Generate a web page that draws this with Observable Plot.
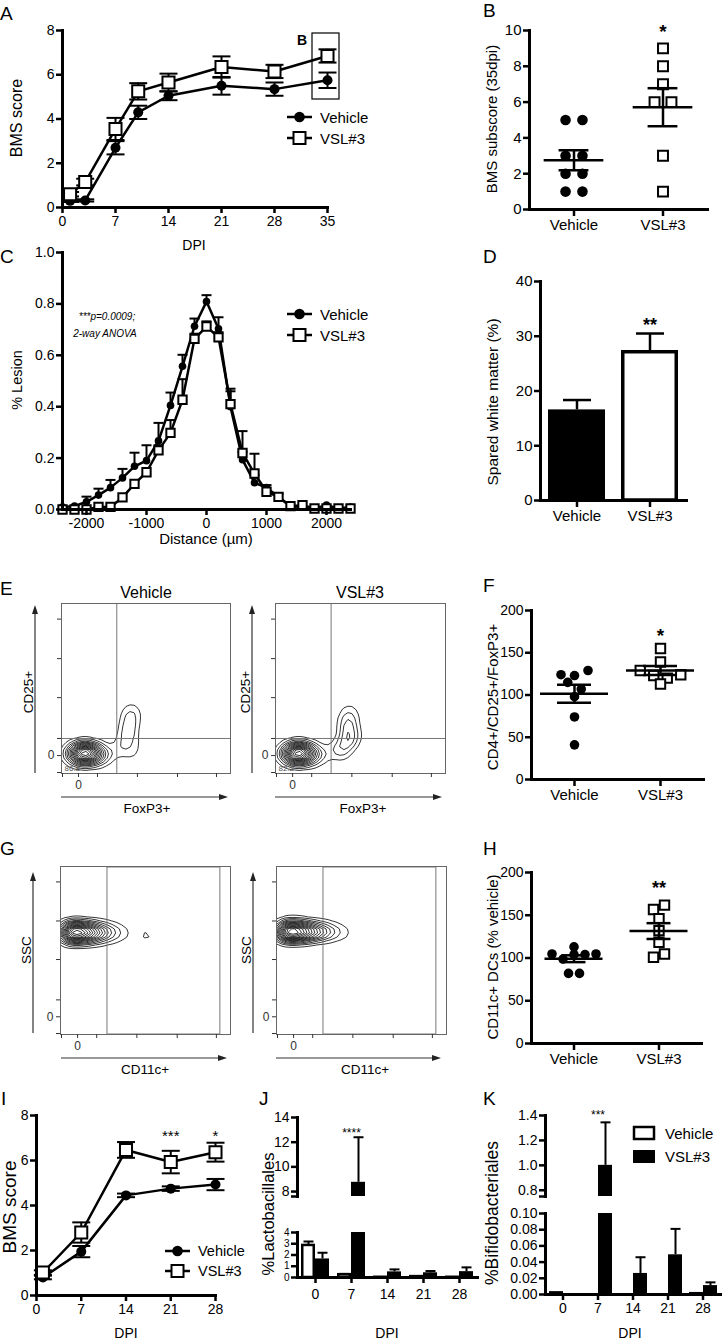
<!DOCTYPE html>
<html><head><meta charset="utf-8">
<script src="https://cdn.jsdelivr.net/npm/d3@7"></script>
<script src="https://cdn.jsdelivr.net/npm/@observablehq/plot@0.6"></script>
<style>
html,body{margin:0;padding:0;background:#fff;}
#page{position:relative;width:723px;height:1342px;overflow:hidden;font-family:'Liberation Sans',Arial,sans-serif;background:#fff;}
</style></head><body><div id="page"></div>
<script>
// ================= DATA =================
const groups = ["Vehicle", "VSL#3"];
// Panel A: BMS score over DPI
const dpiA = [1, 3, 7, 10, 14, 21, 28, 35];
const vehA = [0.3, 0.32, 2.7, 4.3, 5.05, 5.5, 5.35, 5.75];
const vehAErr = [0.05, 0.05, 0.3, 0.3, 0.2, 0.4, 0.3, 0.35];
const vslA = [0.6, 1.15, 3.55, 5.25, 5.65, 6.35, 6.15, 6.85];
const vslAErr = [0.1, 0.15, 0.5, 0.37, 0.4, 0.48, 0.3, 0.3];
const xTicksA = [0, 7, 14, 21, 28, 35];
const yTicksA = [0, 2, 4, 6, 8];
// Panel B: BMS subscore at 35 dpi
const bVeh = [5, 5, 3, 3, 2, 2, 1, 1];
const bVsl = [9, 8, 7, 6, 6, 3, 1];
const yTicksB = [0, 2, 4, 6, 8, 10];
const sigB = [{group: "VSL#3", label: "*"}];
// Panel C: % lesion vs distance
const distC = [-2400, -2200, -2000, -1800, -1600, -1400, -1200, -1000, -800, -600, -400, -200, 0, 200, 400, 600, 800, 1000, 1200, 1400, 1600, 1800, 2000, 2200, 2400];
const vehC = [0.01, 0.013, 0.03, 0.056, 0.085, 0.123, 0.168, 0.19, 0.267, 0.405, 0.557, 0.713, 0.809, 0.703, 0.40, 0.194, 0.104, 0.085, 0.05, 0.013, 0.01, 0.004, 0.017, 0.004, 0.01];
const vehCErr = [0, 0, 0.02, 0.025, 0.03, 0.035, 0.053, 0.06, 0.07, 0.05, 0.045, 0.03, 0.025, 0.045, 0.06, 0.03, 0.03, 0.01, 0.01, 0, 0, 0, 0, 0, 0];
const vslC = [0, 0, 0, 0.01, 0.01, 0.047, 0.1, 0.145, 0.23, 0.298, 0.427, 0.664, 0.712, 0.67, 0.41, 0.22, 0.14, 0.069, 0.049, 0.013, 0.017, 0.004, 0.004, 0.004, 0.004];
const vslCErr = [0, 0, 0, 0, 0, 0, 0, 0, 0.02, 0.05, 0.08, 0.02, 0.02, 0.02, 0.06, 0.085, 0.077, 0, 0, 0, 0, 0, 0, 0, 0];
const xTicksC = [-2000, -1000, 0, 1000, 2000];
const yTicksC = [0, 0.2, 0.4, 0.6, 0.8, 1.0];
// Panel D: spared white matter
const dMean = [16.55, 27.4];
const dErr = [1.8, 3.1];
const yTicksD = [0, 10, 20, 30, 40];
const sigD = [{group: "VSL#3", label: "**"}];
// Panel E: flow contours (channel units 0-1024), x = FoxP3, y = CD25, w = weight
const flowEVeh = [
  {x: 48, y: 120, w: 3}, {x: 85, y: 120, w: 6}, {x: 121, y: 120, w: 9}, {x: 158, y: 120, w: 9},
  {x: 194, y: 120, w: 7}, {x: 230, y: 114, w: 4}, {x: 267, y: 114, w: 2}, {x: 303, y: 114, w: 0.8},
  {x: 121, y: 90, w: 3}, {x: 121, y: 151, w: 3}, {x: 182, y: 90, w: 2}, {x: 182, y: 151, w: 2},
  {x: 364, y: 151, w: 2}, {x: 388, y: 211, w: 2.5}, {x: 406, y: 271, w: 3}, {x: 418, y: 331, w: 3},
  {x: 424, y: 379, w: 2}, {x: 436, y: 181, w: 1.5}, {x: 436, y: 108, w: 1.2}
];
const flowEVsl = [
  {x: 48, y: 120, w: 3}, {x: 85, y: 120, w: 6}, {x: 121, y: 120, w: 9}, {x: 158, y: 120, w: 9},
  {x: 194, y: 120, w: 6}, {x: 230, y: 114, w: 3.5}, {x: 267, y: 114, w: 1.8}, {x: 303, y: 114, w: 0.8},
  {x: 121, y: 90, w: 3}, {x: 121, y: 151, w: 3}, {x: 182, y: 90, w: 2}, {x: 182, y: 151, w: 2},
  {x: 373, y: 144, w: 2.5}, {x: 409, y: 132, w: 2}, {x: 433, y: 193, w: 3.5}, {x: 439, y: 253, w: 4},
  {x: 439, y: 313, w: 3.5}, {x: 445, y: 373, w: 2.2}, {x: 470, y: 217, w: 1.5}
];
const gateE = {x: 335, y: 211};
const labelsE = ["86.8", "82.2"];
const flowTicksX = [6, 103, 218, 460, 703, 939];
const flowTicksY = [6, 108, 211, 457, 692, 930];
// Panel F: CD4+/CD25+/FoxP3+
const fVeh = [124, 123, 129, 115, 107, 98, 74, 41];
const fVsl = [155, 139, 129, 123, 113, 120, 124];
const yTicksF = [0, 50, 100, 150, 200];
const sigF = [{group: "VSL#3", label: "*"}];
// Panel G: flow contours, x = CD11c, y = SSC
const flowGVeh = [
  {x: 30, y: 622, w: 7}, {x: 66, y: 622, w: 9}, {x: 102, y: 622, w: 9}, {x: 138, y: 622, w: 8},
  {x: 175, y: 622, w: 7}, {x: 211, y: 622, w: 6}, {x: 247, y: 622, w: 4.5}, {x: 283, y: 622, w: 3},
  {x: 319, y: 622, w: 2}, {x: 355, y: 622, w: 1.2}, {x: 391, y: 616, w: 0.7}, {x: 427, y: 616, w: 0.4},
  {x: 72, y: 592, w: 2}, {x: 72, y: 653, w: 2}, {x: 150, y: 592, w: 1.5}, {x: 150, y: 653, w: 1.5},
  {x: 518, y: 604, w: 1.9}
];
const flowGVsl = [
  {x: 30, y: 628, w: 7}, {x: 66, y: 628, w: 9}, {x: 102, y: 628, w: 9}, {x: 138, y: 628, w: 8},
  {x: 175, y: 628, w: 7}, {x: 211, y: 628, w: 6}, {x: 247, y: 628, w: 5}, {x: 283, y: 628, w: 3.5},
  {x: 319, y: 628, w: 2.4}, {x: 355, y: 628, w: 1.6}, {x: 391, y: 622, w: 1}, {x: 427, y: 622, w: 0.6},
  {x: 460, y: 622, w: 0.35},
  {x: 72, y: 598, w: 2}, {x: 72, y: 659, w: 2}, {x: 150, y: 598, w: 1.5}, {x: 150, y: 659, w: 1.5}
];
const gateG = [{x1: 283, x2: 963, y1: 0, y2: 1018}];
// Panel H: CD11c+ DCs (% vehicle)
const hVeh = [104.7, 98.8, 104, 104, 104.7, 113, 82, 82];
const hVsl = [156.7, 161.8, 146, 132, 118.5, 100.8, 104.7];
const yTicksH = [0, 50, 100, 150, 200];
const sigH = [{group: "VSL#3", label: "**"}];
// Panel I: BMS score
const dpiI = [1, 7, 14, 21, 28];
const vehI = [0.8, 1.95, 4.45, 4.75, 4.93];
const vehIErr = [0.08, 0.25, 0.08, 0.1, 0.25];
const vslI = [1.02, 2.8, 6.47, 5.93, 6.37];
const vslIErr = [0.1, 0.45, 0.35, 0.5, 0.42];
const xTicksI = [0, 7, 14, 21, 28];
const yTicksI = [0, 2, 4, 6, 8];
const sigI = [{dpi: 21, label: "***"}, {dpi: 28, label: "*"}];
// Panel J: %Lactobacillales
const dpiJ = [0, 7, 14, 21, 28];
const vehJ = [2.85, 0.25, 0.02, 0.08, 0.02];
const vehJErr = [0.35, 0.07, 0, 0.03, 0];
const vslJ = [1.65, 8.75, 0.5, 0.42, 0.52];
const vslJErr = [0.55, 3.65, 0.22, 0.16, 0.38];
const sigJ = [{dpi: 7, label: "****"}];
// Panel K: %Bifidobacteriales
const vehK = [0.002, 0, 0, 0, 0.001];
const vehKErr = [0, 0, 0, 0, 0];
const vslK = [0, 1.0, 0.026, 0.049, 0.011];
const vslKErr = [0, 0.345, 0.02, 0.032, 0.004];
const sigK = [{dpi: 7, label: "***"}];

// ================= HELPERS =================
const FONT = "'Liberation Sans', Arial, Helvetica, sans-serif";
const page = document.getElementById("page");
const AX = 2.5;
const capSym = {draw(ctx, size) { const w = Math.sqrt(size / Math.PI); ctx.moveTo(-w, 0); ctx.lineTo(w, 0); }};

function panel(f, {m, ...opts}) {
  const mm = {l: 40, r: 10, t: 10, b: 30, ...m};
  const svg = Plot.plot({
    ...opts,
    width: f.x1 - f.x0 + mm.l + mm.r,
    height: f.y1 - f.y0 + mm.t + mm.b,
    marginLeft: mm.l, marginRight: mm.r, marginTop: mm.t, marginBottom: mm.b,
    style: {fontFamily: FONT, fontSize: "14px", background: "transparent", overflow: "visible", color: "black"}
  });
  svg.style.position = "absolute";
  svg.style.left = (f.x0 - mm.l) + "px";
  svg.style.top = (f.y0 - mm.t) + "px";
  svg.style.maxWidth = "none";
  page.appendChild(svg);
  return svg;
}
const spines = () => [Plot.frame({anchor: "left", strokeWidth: 3}), Plot.frame({anchor: "bottom", strokeWidth: 3})];
const yAx = (ticks, o = {}) => Plot.axisY({ticks, tickSize: 6, tickPadding: 2, strokeWidth: AX, fontSize: 14, label: null, ...o});
const xAx = (ticks, o = {}) => Plot.axisX({ticks, tickSize: 6, tickPadding: 3, strokeWidth: AX, fontSize: 14, label: null, ...o});

function lineRows(xs, means, errs) { return xs.map((x, i) => ({x, mean: means[i], err: errs[i]})); }
function seriesMarks(rows, {r, sq, up = true, down = true, capR = 8, lineW = 2.5, errW = 2}) {
  const eb = rows.filter(d => d.err > 0);
  const marks = [
    Plot.ruleX(eb, {x: "x", y1: d => down ? d.mean - d.err : d.mean, y2: d => up ? d.mean + d.err : d.mean, strokeWidth: errW})
  ];
  if (up) marks.push(Plot.dot(eb, {x: "x", y: d => d.mean + d.err, symbol: capSym, r: capR, fill: "none", stroke: "black", strokeWidth: errW}));
  if (down) marks.push(Plot.dot(eb, {x: "x", y: d => d.mean - d.err, symbol: capSym, r: capR, fill: "none", stroke: "black", strokeWidth: errW}));
  marks.push(Plot.line(rows, {x: "x", y: "mean", strokeWidth: lineW}));
  marks.push(sq
    ? Plot.dot(rows, {x: "x", y: "mean", symbol: "square", r: sq, fill: "white", stroke: "black", strokeWidth: 2})
    : Plot.dot(rows, {x: "x", y: "mean", r, fill: "black"}));
  return marks;
}

// symmetric scatter layout (Prism-like): values falling in the same bin are spread evenly around the column centre
function spread(values, group, binUnits, step) {
  const bins = d3.group(values.map(v => ({v})), d => Math.floor(d.v / binUnits));
  const out = [];
  for (const [, items] of bins) items.forEach((d, k) => out.push({group, value: d.v, off: (k - (items.length - 1) / 2) * step}));
  return out;
}

function dotPanel(f, {domain, ticks, veh, vsl, rC, rS, binUnits, step, meanHalf, semHalf, sig, sigDy, sigSize, tickFont = 14}) {
  const halfW = (f.x1 - f.x0) / 4;
  const pts = [...spread(veh, "Vehicle", binUnits, step), ...spread(vsl, "VSL#3", binUnits, step)];
  const stats = groups.map(g => {
    const vs = pts.filter(d => d.group === g).map(d => d.value);
    const mean = d3.mean(vs), sem = d3.deviation(vs) / Math.sqrt(vs.length);
    return {group: g, mean, lo: mean - sem, hi: mean + sem};
  });
  panel(f, {m: {l: 40, r: 10, t: 28, b: 30},
    fx: {domain: groups, padding: 0, axis: null},
    x: {domain: [-halfW, halfW], axis: null},
    y: {domain, axis: null},
    marks: [
      Plot.dot(pts.filter(d => d.group === "Vehicle"), {fx: "group", x: "off", y: "value", r: rC, fill: "black"}),
      Plot.dot(pts.filter(d => d.group === "VSL#3"), {fx: "group", x: "off", y: "value", r: rS, symbol: "square", fill: "white", stroke: "black", strokeWidth: 2}),
      Plot.ruleY(stats, {fx: "group", y: "mean", x1: -meanHalf, x2: meanHalf, strokeWidth: 2.5}),
      Plot.ruleY(stats, {fx: "group", y: "hi", x1: -semHalf, x2: semHalf, strokeWidth: 2.5}),
      Plot.ruleY(stats, {fx: "group", y: "lo", x1: -semHalf, x2: semHalf, strokeWidth: 2.5}),
      Plot.ruleX(stats, {fx: "group", x: 0, y1: "lo", y2: "hi", strokeWidth: 2.5}),
      Plot.frame({anchor: "bottom", strokeWidth: 3}),
      Plot.frame({anchor: "left", strokeWidth: 3, facetAnchor: "left"}),
      Plot.axisY({ticks, tickSize: 6, tickPadding: 2, strokeWidth: AX, fontSize: tickFont, label: null}),
      Plot.axisFx({anchor: "bottom", tickSize: 7, tickPadding: 3, strokeWidth: AX, fontSize: 15, label: null}),
      Plot.text(sig, {fx: "group", text: "label", frameAnchor: "top", dy: sigDy, fontSize: sigSize, fontWeight: "bold"})
    ]});
}

function flowPanel(f, pts, {gate, rect, label, zeroX, zeroY}) {
  const gm = rect
    ? [Plot.rect(rect, {x1: "x1", x2: "x2", y1: "y1", y2: "y2", fill: "none", stroke: "#777", strokeWidth: 1})]
    : [Plot.ruleX([gate.x], {stroke: "#777", strokeWidth: 1}), Plot.ruleY([gate.y], {stroke: "#777", strokeWidth: 1})];
  const marks = [
    Plot.density(pts, {x: "x", y: "y", weight: "w", bandwidth: 5, thresholds: 16, stroke: "black", strokeWidth: 0.8, clip: true}),
    ...gm,
    Plot.frame({stroke: "#666", strokeWidth: 1}),
    Plot.axisX({ticks: flowTicksX, tickSize: 4, tickPadding: 3, strokeWidth: 1, color: "#333", fontSize: 12, tickFormat: d => d === zeroX ? "0" : "", label: null}),
    Plot.axisY({ticks: flowTicksY, tickSize: 4, tickPadding: 3, strokeWidth: 1, color: "#333", fontSize: 12, tickFormat: d => d === zeroY ? "0" : "", label: null})
  ];
  if (label) marks.push(Plot.text([label], {frameAnchor: "bottom-left", dx: 3, dy: -3, lineAnchor: "bottom", textAnchor: "start", fontSize: 8, fill: "#555"}));
  panel(f, {m: {l: 16, r: 2, t: 2, b: 22}, x: {domain: [0, 1024], axis: null}, y: {domain: [0, 1024], axis: null}, marks});
}

function brokenBars({frameU, frameL, domU, domL, ticksU, ticksL, fmtU, fmtL, lowFont, veh, vehErr, vsl, vslErr, sig, sigDy, labelPad}) {
  const rows = [
    ...dpiJ.map((d, i) => ({dpi: d, group: "Vehicle", mean: veh[i], err: vehErr[i]})),
    ...dpiJ.map((d, i) => ({dpi: d, group: "VSL#3", mean: vsl[i], err: vslErr[i]}))
  ];
  const dataMarks = () => [
    Plot.barY(rows.filter(d => d.group === "Vehicle"), {fx: "dpi", x: "group", y: "mean", fill: "white", stroke: "black", strokeWidth: 2.5, insetLeft: 1.25, insetRight: 1.25, clip: true}),
    Plot.barY(rows.filter(d => d.group === "VSL#3"), {fx: "dpi", x: "group", y: "mean", fill: "black", clip: true}),
    Plot.ruleX(rows.filter(d => d.err > 0), {fx: "dpi", x: "group", y1: "mean", y2: d => d.mean + d.err, strokeWidth: 2, clip: true}),
    Plot.dot(rows.filter(d => d.err > 0), {fx: "dpi", x: "group", y: d => d.mean + d.err, symbol: capSym, r: 5, fill: "none", stroke: "black", strokeWidth: 2, clip: true})
  ];
  const sc = dom => ({
    fx: {domain: dpiJ, padding: 0, axis: null},
    x: {domain: groups, paddingInner: 0, paddingOuter: 0.25, axis: null},
    y: {domain: dom, axis: null}
  });
  panel(frameU, {m: {l: 40, r: 2, t: 14, b: 2}, ...sc(domU), marks: [
    ...dataMarks(),
    Plot.frame({anchor: "left", strokeWidth: 3, facetAnchor: "left"}),
    Plot.axisY({ticks: ticksU, tickFormat: fmtU, tickSize: 6, tickPadding: 2, strokeWidth: AX, fontSize: 14, label: null}),
    Plot.text(sig, {fx: "dpi", text: "label", frameAnchor: "top", dy: sigDy, fontSize: 12})
  ]});
  panel(frameL, {m: {l: 40, r: 2, t: 4, b: 30}, ...sc(domL), marks: [
    ...dataMarks(),
    Plot.frame({anchor: "bottom", strokeWidth: 3}),
    Plot.frame({anchor: "left", strokeWidth: 3, facetAnchor: "left"}),
    Plot.axisY({ticks: ticksL, tickFormat: fmtL, tickSize: 6, tickPadding: 2, strokeWidth: AX, fontSize: lowFont, label: null}),
    Plot.axisFx({anchor: "bottom", tickSize: 6, tickPadding: labelPad, strokeWidth: AX, fontSize: 14, label: null})
  ]});
}

// ================= PANELS =================
// A
panel({x0: 62, x1: 327, y0: 30, y1: 207}, {
  m: {l: 40, r: 12, t: 10, b: 30},
  x: {domain: [0, 35], axis: null}, y: {domain: [0, 8], axis: null},
  marks: [
    ...seriesMarks(lineRows(dpiA, vehA, vehAErr), {r: 5, capR: 9}),
    ...seriesMarks(lineRows(dpiA, vslA, vslAErr), {sq: 6.8, capR: 9}),
    ...spines(), xAx(xTicksA), yAx(yTicksA)
  ]
});
// B
dotPanel({x0: 528, x1: 707, y0: 30, y1: 209}, {domain: [0, 10], ticks: yTicksB, veh: bVeh, vsl: bVsl, rC: 5.3, rS: 5.6,
  binUnits: 0.6, step: 17, meanHalf: 30, semHalf: 15, sig: sigB, sigDy: -6, sigSize: 19, tickFont: 15});
// C
panel({x0: 62, x1: 350, y0: 252, y1: 509}, {
  m: {l: 40, r: 10, t: 10, b: 30},
  x: {domain: [-2400, 2400], axis: null}, y: {domain: [0, 1], axis: null},
  marks: [
    ...seriesMarks(lineRows(distC, vehC, vehCErr), {r: 3.8, capR: 5, down: false}),
    ...seriesMarks(lineRows(distC, vslC, vslCErr), {sq: 4.7, capR: 5, down: false}),
    ...spines(), xAx(xTicksC, {tickFormat: d => String(d)}), yAx(yTicksC, {tickFormat: d3.format(".1f")})
  ]
});
// D
const dRows = groups.map((g, i) => ({group: g, mean: dMean[i], err: dErr[i]}));
panel({x0: 540, x1: 686, y0: 281, y1: 500}, {
  m: {l: 40, r: 10, t: 10, b: 30},
  x: {domain: groups, paddingInner: 0.22, paddingOuter: 0.11, axis: null},
  y: {domain: [0, 40], axis: null},
  marks: [
    Plot.ruleX(dRows, {x: "group", y1: "mean", y2: d => d.mean + d.err, strokeWidth: 2.5}),
    Plot.dot(dRows, {x: "group", y: d => d.mean + d.err, symbol: capSym, r: 14, fill: "none", stroke: "black", strokeWidth: 2.5}),
    Plot.barY(dRows, {x: "group", y: "mean", fill: d => d.group === "Vehicle" ? "black" : "white", stroke: "black", strokeWidth: 3.5, insetLeft: 1.75, insetRight: 1.75, insetTop: 1.75}),
    ...spines(),
    xAx(groups, {tickSize: 7, fontSize: 15}), yAx(yTicksD, {fontSize: 15}),
    Plot.text(sigD, {x: "group", text: "label", frameAnchor: "top", dy: 37, fontSize: 18, fontWeight: "bold"})
  ]
});
// E
flowPanel({x0: 61, x1: 230, y0: 603, y1: 773}, flowEVeh, {gate: gateE, label: labelsE[0], zeroX: 103, zeroY: 108});
flowPanel({x0: 275, x1: 445, y0: 603, y1: 773}, flowEVsl, {gate: gateE, label: labelsE[1], zeroX: 103, zeroY: 108});
// F
dotPanel({x0: 531, x1: 703, y0: 610, y1: 779}, {domain: [0, 200], ticks: yTicksF, veh: fVeh, vsl: fVsl, rC: 4.8, rS: 5.3,
  binUnits: 11.8, step: 13.5, meanHalf: 34, semHalf: 17, sig: sigF, sigDy: 18, sigSize: 19});
// G
flowPanel({x0: 60, x1: 230, y0: 866, y1: 1034}, flowGVeh, {rect: gateG, zeroX: 103, zeroY: 108});
flowPanel({x0: 276, x1: 446, y0: 866, y1: 1034}, flowGVsl, {rect: gateG, zeroX: 103, zeroY: 108});
// H
dotPanel({x0: 531, x1: 701, y0: 872, y1: 1043}, {domain: [0, 200], ticks: yTicksH, veh: hVeh, vsl: hVsl, rC: 4.8, rS: 5.3,
  binUnits: 11.7, step: 11, meanHalf: 29, semHalf: 12, sig: sigH, sigDy: 9, sigSize: 18});
// I
panel({x0: 36, x1: 215, y0: 1115, y1: 1295}, {
  m: {l: 30, r: 10, t: 25, b: 25},
  x: {domain: [0, 28], axis: null}, y: {domain: [0, 8], axis: null},
  marks: [
    ...seriesMarks(lineRows(dpiI, vehI, vehIErr), {r: 5, capR: 9}),
    ...seriesMarks(lineRows(dpiI, vslI, vslIErr), {sq: 6.8, capR: 9}),
    ...spines(), xAx(xTicksI), yAx(yTicksI),
    Plot.text(sigI, {x: "dpi", text: "label", frameAnchor: "top", dy: 15, fontSize: 15})
  ]
});
// J
brokenBars({frameU: {x0: 297, x1: 477, y0: 1117, y1: 1196}, frameL: {x0: 297, x1: 477, y0: 1232, y1: 1277},
  domU: [7.6, 14], domL: [0, 4], ticksU: [7.6, 8, 10, 12, 14], ticksL: [0, 1, 2, 3, 4],
  fmtU: d => d === 7.6 ? "" : String(d), fmtL: d => String(d), lowFont: 10,
  veh: vehJ, vehErr: vehJErr, vsl: vslJ, vslErr: vslJErr, sig: sigJ, sigDy: 11, labelPad: 6});
// K
brokenBars({frameU: {x0: 543, x1: 722, y0: 1115, y1: 1196}, frameL: {x0: 543, x1: 722, y0: 1213, y1: 1294},
  domU: [0.75, 1.4], domL: [0, 0.1], ticksU: [0.75, 0.8, 1.0, 1.2, 1.4], ticksL: [0, 0.02, 0.04, 0.06, 0.08, 0.10],
  fmtU: d => d === 0.75 ? "" : d3.format(".1f")(d), fmtL: d3.format(".2f"), lowFont: 14,
  veh: vehK, vehErr: vehKErr, vsl: vslK, vslErr: vslKErr, sig: sigK, sigDy: -5, labelPad: 3});

// ================= OVERLAY: letters, axis titles, legends, arrows =================
const ov = d3.create("svg").attr("width", 723).attr("height", 1342)
  .style("position", "absolute").style("left", "0px").style("top", "0px")
  .style("font-family", FONT).style("pointer-events", "none").style("overflow", "visible");
function T(x, y, s, o = {}) {
  const t = ov.append("text").attr("x", x).attr("y", y).attr("font-size", o.size || 15)
    .attr("text-anchor", o.anchor || "middle").attr("dominant-baseline", o.base || "central")
    .attr("fill", o.fill || "black").text(s);
  if (o.weight) t.attr("font-weight", o.weight);
  if (o.italic) t.attr("font-style", "italic");
  if (o.rot) t.attr("transform", `rotate(-90 ${x} ${y})`);
  return t;
}
// panel letters
[["A", 0, 20], ["B", 483, 17], ["C", 0, 263], ["D", 483, 263], ["E", 0, 595], ["F", 483, 592],
 ["G", 0, 855], ["H", 483, 855], ["I", 1, 1105], ["J", 259, 1105], ["K", 483, 1105]]
  .forEach(([s, x, y]) => T(x, y, s, {size: 19, anchor: "start", base: "alphabetic"}));
// axis titles
T(16, 118, "BMS score", {rot: true, size: 16});
T(194, 245, "DPI", {size: 14});
T(491, 119, "BMS subscore (35dpi)", {rot: true, size: 15});
T(17, 380, "% Lesion", {rot: true, size: 14.5});
T(206, 538, "Distance (µm)", {size: 15});
T(492, 402, "Spared white matter (%)", {rot: true, size: 15.5});
T(492, 697, "CD4+/CD25+/FoxP3+", {rot: true, size: 15});
T(492, 957, "CD11c+ DCs (% vehicle)", {rot: true, size: 15});
T(9, 1207, "BMS score", {rot: true, size: 19});
T(126, 1333, "DPI", {size: 14});
T(268, 1214, "%Lactobacillales", {rot: true, size: 16.5});
T(387, 1333, "DPI", {size: 14});
T(492, 1213, "%Bifidobacteriales", {rot: true, size: 17.5});
T(630, 1333, "DPI", {size: 14});
// C annotation
T(107, 316, "***p=0.0009;", {size: 10, italic: true});
T(105, 333, "2-way ANOVA", {size: 10, italic: true});
// box around 35 dpi in A
ov.append("rect").attr("x", 312).attr("y", 33).attr("width", 27).attr("height", 66).attr("fill", "none").attr("stroke", "black").attr("stroke-width", 1.2);
T(302, 40, "B", {size: 14, weight: "bold"});
// flow titles and axis labels
T(146, 592, "Vehicle", {size: 16});
T(360, 592, "VSL#3", {size: 16});
T(28, 692, "CD25+", {rot: true, size: 13.5});
T(245, 692, "CD25+", {rot: true, size: 13.5});
T(147, 808, "FoxP3+", {size: 13.5});
T(363, 808, "FoxP3+", {size: 13.5});
T(26, 950, "SSC", {rot: true, size: 13.5});
T(246, 950, "SSC", {rot: true, size: 13.5});
T(145, 1069, "CD11c+", {size: 13.5});
T(365, 1069, "CD11c+", {size: 13.5});
function arrow(x1, y1, x2, y2) {
  ov.append("line").attr("x1", x1).attr("y1", y1).attr("x2", x2).attr("y2", y2).attr("stroke", "#333").attr("stroke-width", 1.2);
  const pts = y1 === y2 ? [[x2 + 4, y2], [x2 - 5, y2 - 3], [x2 - 5, y2 + 3]] : [[x2, y2 - 4], [x2 - 3, y2 + 5], [x2 + 3, y2 + 5]];
  ov.append("polygon").attr("points", pts.map(p => p.join(",")).join(" ")).attr("fill", "#222");
}
arrow(35, 773, 35, 609); arrow(61, 797, 224, 797);
arrow(252, 773, 252, 609); arrow(275, 797, 438, 797);
arrow(33, 1033, 33, 876); arrow(61, 1058, 223, 1058);
arrow(253, 1033, 253, 876); arrow(276, 1058, 437, 1058);
// line legends
function legLine(x, y, kind, label, size = 15) {
  ov.append("line").attr("x1", x).attr("x2", x + 25).attr("y1", y).attr("y2", y).attr("stroke", "black").attr("stroke-width", 2.5);
  if (kind === "circle") ov.append("circle").attr("cx", x + 12.5).attr("cy", y).attr("r", 5.3).attr("fill", "black");
  else ov.append("rect").attr("x", x + 6.5).attr("y", y - 6).attr("width", 12).attr("height", 12).attr("fill", "white").attr("stroke", "black").attr("stroke-width", 2);
  T(x + 33, y, label, {anchor: "start", size});
}
legLine(287, 117, "circle", "Vehicle");
legLine(287, 138, "square", "VSL#3");
legLine(287, 314, "circle", "Vehicle");
legLine(287, 335, "square", "VSL#3");
legLine(165, 1251, "circle", "Vehicle", 14.5);
legLine(165, 1271, "square", "VSL#3", 14.5);
// box legend K
ov.append("rect").attr("x", 634).attr("y", 1127).attr("width", 20).attr("height", 12).attr("fill", "white").attr("stroke", "black").attr("stroke-width", 2.5);
ov.append("rect").attr("x", 633).attr("y", 1150).attr("width", 22).attr("height", 13).attr("fill", "black");
T(665, 1133, "Vehicle", {anchor: "start", size: 15});
T(665, 1156, "VSL#3", {anchor: "start", size: 15});
page.appendChild(ov.node());
</script></body></html>
